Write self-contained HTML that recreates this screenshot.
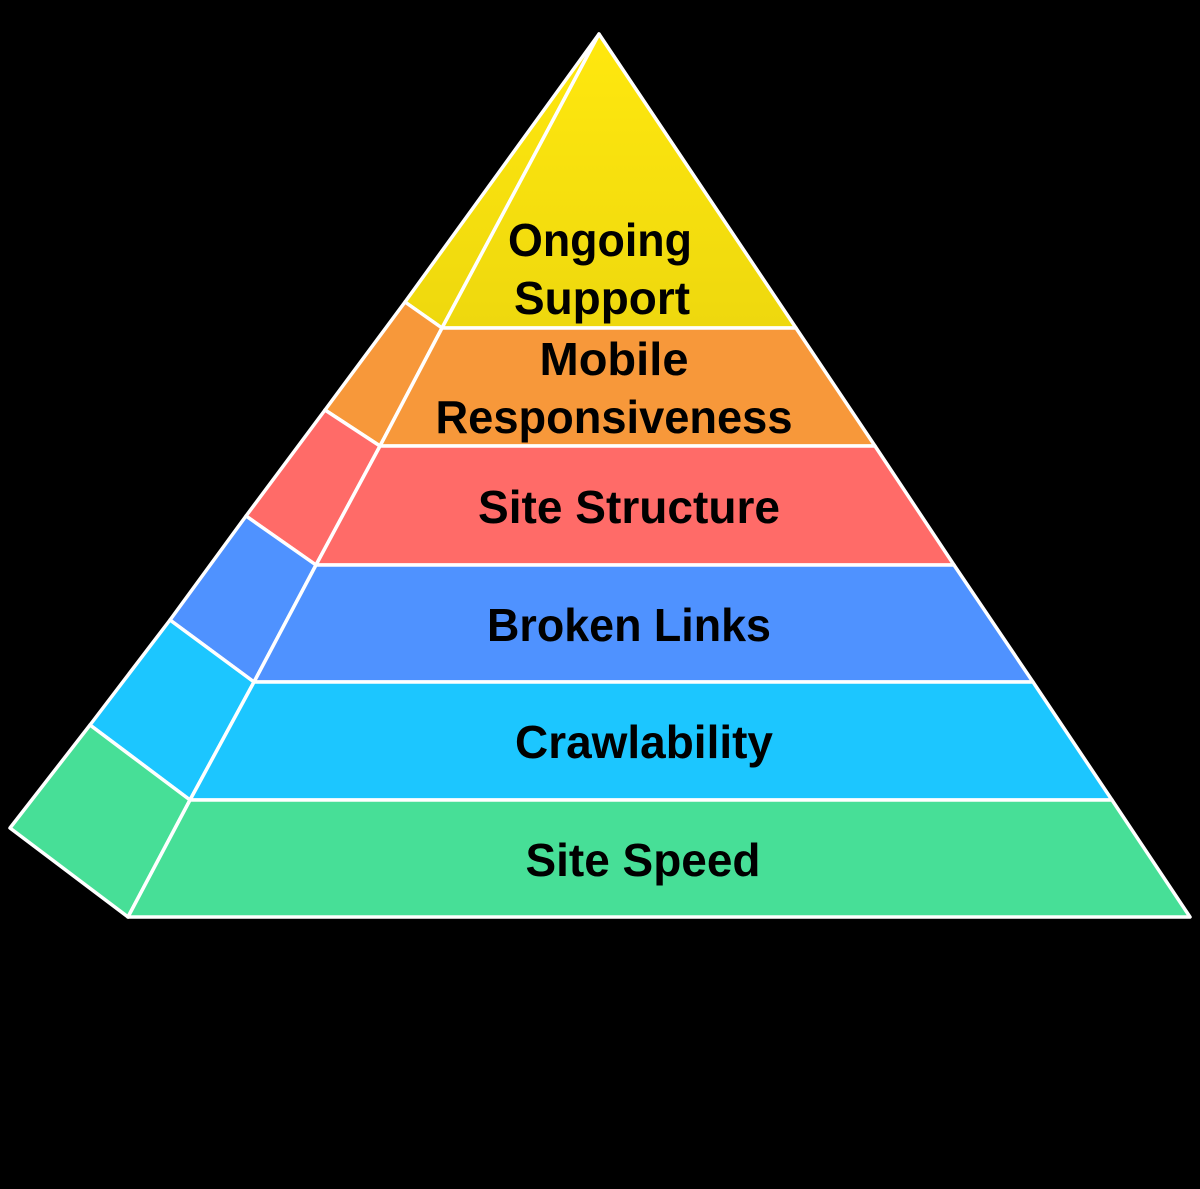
<!DOCTYPE html>
<html><head><meta charset="utf-8"><style>
html,body{margin:0;padding:0;background:#000;}
svg{display:block}
text{font-family:"Liberation Sans",sans-serif;font-weight:bold;font-size:46px;fill:#000;text-anchor:middle}
</style></head><body>
<svg width="1200" height="1189" viewBox="0 0 1200 1189">
<defs><linearGradient id="y" x1="0" y1="0" x2="0" y2="1"><stop offset="0" stop-color="#FFE80E"/><stop offset="1" stop-color="#EED80E"/></linearGradient></defs>
<g stroke="#fff" stroke-width="3.5" stroke-linejoin="round">
<polygon points="599,34 442,328 405,302" fill="url(#y)"/>
<polygon points="405,302 442,328 380,446 325,410" fill="#F7983A"/>
<polygon points="325,410 380,446 316,565 246,516" fill="#FF6B68"/>
<polygon points="246,516 316,565 254,682 170,620" fill="#4F92FF"/>
<polygon points="170,620 254,682 190,800 90,725" fill="#1CC6FF"/>
<polygon points="90,725 190,800 128,917 10,828" fill="#47DF97"/>
<polygon points="599,34 796,328 442,328" fill="url(#y)"/>
<polygon points="442,328 796,328 875,446 380,446" fill="#F7983A"/>
<polygon points="380,446 875,446 954,565 316,565" fill="#FF6B68"/>
<polygon points="316,565 954,565 1033,682 254,682" fill="#4F92FF"/>
<polygon points="254,682 1033,682 1112,800 190,800" fill="#1CC6FF"/>
<polygon points="190,800 1112,800 1190,917 128,917" fill="#47DF97"/>
</g>
<text x="600" y="256" textLength="184" lengthAdjust="spacingAndGlyphs">Ongoing</text>
<text x="602" y="314" textLength="176" lengthAdjust="spacingAndGlyphs">Support</text>
<text x="614" y="375" textLength="149" lengthAdjust="spacingAndGlyphs">Mobile</text>
<text x="614" y="433" textLength="357" lengthAdjust="spacingAndGlyphs">Responsiveness</text>
<text x="629" y="523" textLength="302" lengthAdjust="spacingAndGlyphs">Site Structure</text>
<text x="629" y="641" textLength="284" lengthAdjust="spacingAndGlyphs">Broken Links</text>
<text x="644" y="758" textLength="258" lengthAdjust="spacingAndGlyphs">Crawlability</text>
<text x="643" y="876" textLength="235" lengthAdjust="spacingAndGlyphs">Site Speed</text>
</svg>
</body></html>
